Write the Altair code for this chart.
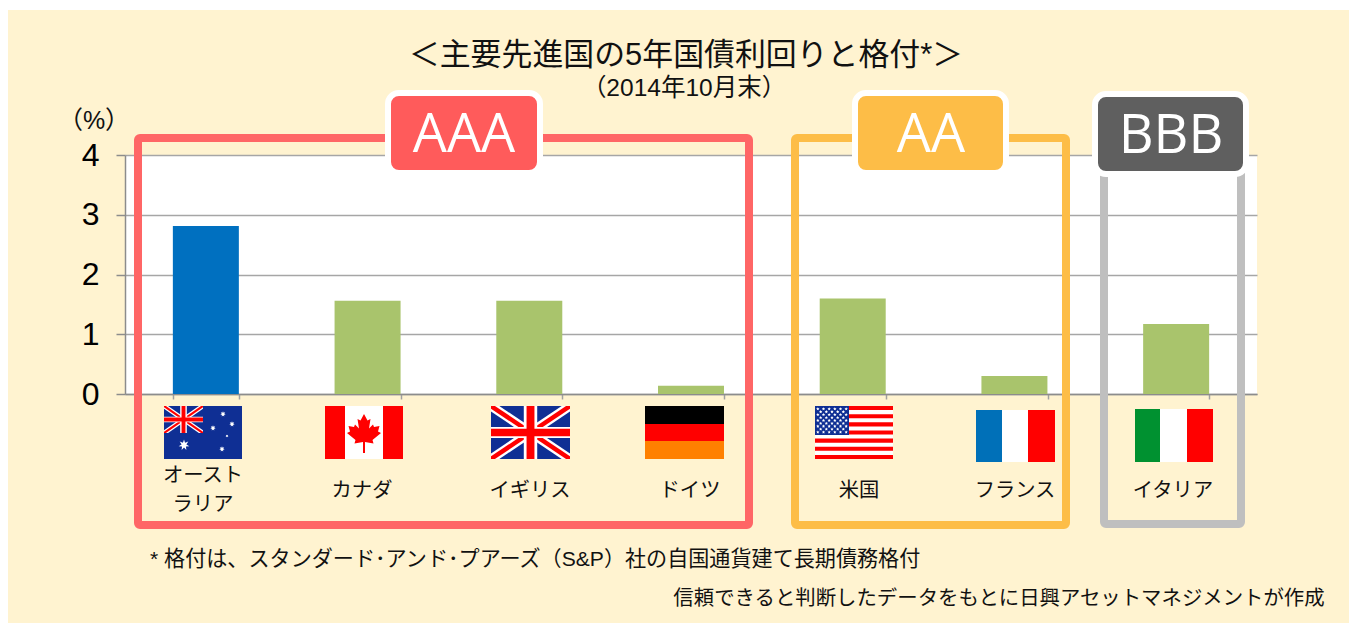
import math
import altair as alt
import pandas as pd

# ---- data ----
countries = ["オーストラリア", "カナダ", "イギリス", "ドイツ", "米国", "フランス", "イタリア"]
yields = [2.81, 1.56, 1.56, 0.14, 1.60, 0.30, 1.17]
y_ticks = [0, 1, 2, 3, 4]
title_text = "＜主要先進国の5年国債利回りと格付*＞"
subtitle_text = "（2014年10月末）"
unit_text = "（%）"
note1_text = "* 格付は、スタンダード･アンド･プアーズ（S&P）社の自国通貨建て長期債務格付"
note2_text = "信頼できると判断したデータをもとに日興アセットマネジメントが作成"
label_lines = ["オースト", "ラリア", "カナダ", "イギリス", "ドイツ", "米国", "フランス", "イタリア"]
rating_names = ["AAA", "AA", "BBB"]

# ---- layout (page pixels) ----
L, T, R, B = 125, 155, 1257, 394
W, H = R - L, B - T
CW, CH = 1341, 615
FONT = "Liberation Sans, Noto Sans CJK JP"
CREAM = "#FFF3D0"


def px(v):
    return v - L


def py(v):
    return v - T


def box(x0, y0, x1, y1, c):
    return dict(x=px(x0), y=py(y0), x2=px(x1), y2=py(y1), c=c)


def poly(points):
    return "M" + "L".join(f"{a:.2f},{b:.2f}" for a, b in points) + "Z"


def star(r, n=5, inner=0.42):
    pts = []
    for i in range(2 * n):
        rad = r if i % 2 == 0 else r * inner
        ang = -math.pi / 2 + i * math.pi / n
        pts.append((rad * math.cos(ang), rad * math.sin(ang)))
    return poly(pts)


def place(x, y, path, c):
    return dict(x=px(x), y=py(y), p=path, c=c)


NAVY, RED, WHITE = "#0F2F94", "#FF0000", "#FFFFFF"
under, diag, over, top = [], [], [], []


def union_jack(x0, y0, x1, y1):
    w, h = x1 - x0, y1 - y0
    under.append(box(x0, y0, x1, y1, NAVY))
    for frac, col in ((0.105, WHITE), (0.05, RED)):
        a, b = frac * w, frac * h
        d1 = [(0, 0), (a, 0), (w, h - b), (w, h), (w - a, h), (0, b)]
        d2 = [(w - p, q) for p, q in d1]
        diag.append(place(x0, y0, poly(d1), col))
        diag.append(place(x0, y0, poly(d2), col))
    cx, cy = (x0 + x1) / 2, (y0 + y1) / 2
    vw, vr, hw, hr = w * 0.085, w * 0.05, h * 0.105, h * 0.07
    over.append(box(cx - vw, y0, cx + vw, y1, WHITE))
    over.append(box(x0, cy - hw, x1, cy + hw, WHITE))
    over.append(box(cx - vr, y0, cx + vr, y1, RED))
    over.append(box(x0, cy - hr, x1, cy + hr, RED))


# Australia
under.append(box(164, 406, 242, 459, NAVY))
union_jack(164, 406, 203, 433)
for sx, sy, sr in [(223, 414, 2.8), (213, 428, 2.8), (232, 424, 2.8), (227, 436, 1.5), (222, 449, 2.8)]:
    top.append(place(sx, sy, star(sr, 7, 0.5), WHITE))
top.append(place(184, 445, star(5.5, 7, 0.45), WHITE))
# Canada
under += [box(325, 406, 403, 459, WHITE), box(325, 406, 345, 459, RED), box(383, 406, 403, 459, RED)]
half = [(0, 0), (3.5, 6.5), (6.5, 5), (5, 14.5), (9, 10.5), (10, 13), (15.5, 12), (14, 17.5), (17, 19),
        (8.5, 26), (9.5, 29.5), (1, 28), (1, 39)]
leaf = half + [(-a, b) for a, b in reversed(half[1:])]
top.append(place(364, 414, poly(leaf), RED))
# UK
union_jack(491, 406, 570, 459)
# Germany
under += [box(645, 406, 724, 424, "#000000"), box(645, 424, 724, 441, RED), box(645, 441, 724, 459, "#FF8000")]
# USA
under.append(box(815, 406, 893, 459, WHITE))
for i in range(0, 13, 2):
    under.append(box(815, 406 + i * 53 / 13, 893, 406 + (i + 1) * 53 / 13, RED))
over.append(box(815, 406, 849, 435, NAVY))
for row in range(9):
    n = 6 if row % 2 == 0 else 5
    for col in range(n):
        sx = 815 + 34 * ((col + (0.5 if row % 2 == 0 else 1.0)) / 6)
        sy = 406 + 29 * (row + 1) / 10
        top.append(place(sx, sy, star(1.7, 5, 0.5), WHITE))
# France
under += [box(976, 410, 1002, 462, "#0070B8"), box(1002, 410, 1028, 462, WHITE), box(1028, 410, 1055, 462, RED)]
# Italy
under += [box(1135, 409, 1160, 462, "#009130"), box(1160, 409, 1187, 462, WHITE), box(1187, 409, 1213, 462, RED)]


def ident(field):
    return alt.X(field, type="quantitative", scale=None, axis=None)


def identy(field):
    return alt.Y(field, type="quantitative", scale=None, axis=None)


def rects(rows, **kw):
    return alt.Chart(pd.DataFrame(rows)).mark_rect(**kw).encode(
        x=ident("x"), y=identy("y"), x2="x2:Q", y2="y2:Q",
        fill=alt.Fill("c:N", scale=None),
    )


def paths(rows):
    return alt.Chart(pd.DataFrame(rows)).mark_point(filled=True, size=4, opacity=1, strokeWidth=0).encode(
        x=ident("x"), y=identy("y"),
        shape=alt.Shape("p:N", scale=None),
        fill=alt.Fill("c:N", scale=None),
    )


def text(s, x, y, size, color="#111111", font=FONT, weight=None, align="center"):
    kw = dict(fontSize=size, font=font, color=color, align=align, baseline="middle")
    if weight is not None:
        kw["fontWeight"] = weight
    return alt.Chart(pd.DataFrame([dict(x=px(x), y=py(y), t=s)])).mark_text(**kw).encode(
        x=ident("x"), y=identy("y"), text="t:N"
    )


def frame(x0, y0, x1, y1, c):
    return alt.Chart(pd.DataFrame([box(x0, y0, x1, y1, c)])).mark_rect(
        fillOpacity=0, stroke=c, strokeWidth=8, cornerRadius=2
    ).encode(x=ident("x"), y=identy("y"), x2="x2:Q", y2="y2:Q")


def badge(x0, y0, x1, y1, c):
    return alt.Chart(pd.DataFrame([box(x0, y0, x1, y1, c)])).mark_rect(
        fill=c, stroke="#FFFFFF", strokeWidth=6, cornerRadius=11
    ).encode(x=ident("x"), y=identy("y"), x2="x2:Q", y2="y2:Q")


df = pd.DataFrame({"country": countries, "value": yields})
bars = alt.Chart(df).mark_bar(width=66).encode(
    x=alt.X(
        "country:N", sort=countries, title=None,
        scale=alt.Scale(paddingInner=0.59, paddingOuter=0.295),
        axis=alt.Axis(labels=False, title=None, tickBand="extent", tickSize=5, tickColor="#A0A0A0",
                      tickWidth=1.5, domainColor="#8C8C8C", domainWidth=1.5, grid=False),
    ),
    y=alt.Y(
        "value:Q", title=None, scale=alt.Scale(domain=[0, 4], nice=False),
        axis=alt.Axis(values=y_ticks, format="d", title=None, grid=True, gridColor="#A6A6A6", gridWidth=1.5,
                      tickSize=9, tickColor="#8C8C8C", tickWidth=1.5, domainColor="#8C8C8C", domainWidth=1.5,
                      labelFont=FONT, labelFontSize=32, labelColor="#000000", labelPadding=17),
    ),
    color=alt.condition(alt.datum.country == "オーストラリア", alt.value("#0070C0"), alt.value("#A9C46C")),
)

layers = [
    bars,
    rects([box(8, 8, 1349, 10, "#FFFFFF")]),
    rects(under),
    paths(diag),
    rects(over),
    paths(top),
    frame(138, 138, 749, 525, "#FF6666"),
    frame(795, 138, 1066, 525, "#FDBD47"),
    frame(1104, 138, 1241, 524, "#BFBFBF"),
    badge(388, 93, 540, 173, "#FF5B5B"),
    badge(855, 93, 1006, 173, "#FDBD47"),
    badge(1095, 94, 1246, 174, "#5F5F5F"),
    text(title_text, 686, 56, 30.9),
    text(subtitle_text, 684, 89, 24.5),
    text(unit_text, 94, 121, 25),
    text(note1_text, 150, 560, 21.1, align="left"),
    text(note2_text, 999, 599, 20.4),
]
for s, (x, y) in zip(label_lines, [(203, 476), (203, 505), (362, 491), (530, 491), (690, 491), (859, 491), (1015, 491), (1173, 491)]):
    layers.append(text(s, x, y, 20.3))
for s, (x, y) in zip(rating_names, [(464, 136), (931, 136), (1171, 137)]):
    layers.append(text(s, x, y, 54, color="#FFFFFF", font="Open Sans", weight=400))

chart = alt.layer(*layers).properties(
    width=W, height=H,
    background=CREAM,
    padding=dict(left=L - 8, top=T - 8, right=CW - (L - 8) - W, bottom=CH - (T - 8) - H),
    autosize=alt.AutoSizeParams(type="none", contains="content"),
).configure_view(fill="#FFFFFF", stroke=None)

chart.save("out.html", embed_options={"renderer": "svg", "actions": False})
